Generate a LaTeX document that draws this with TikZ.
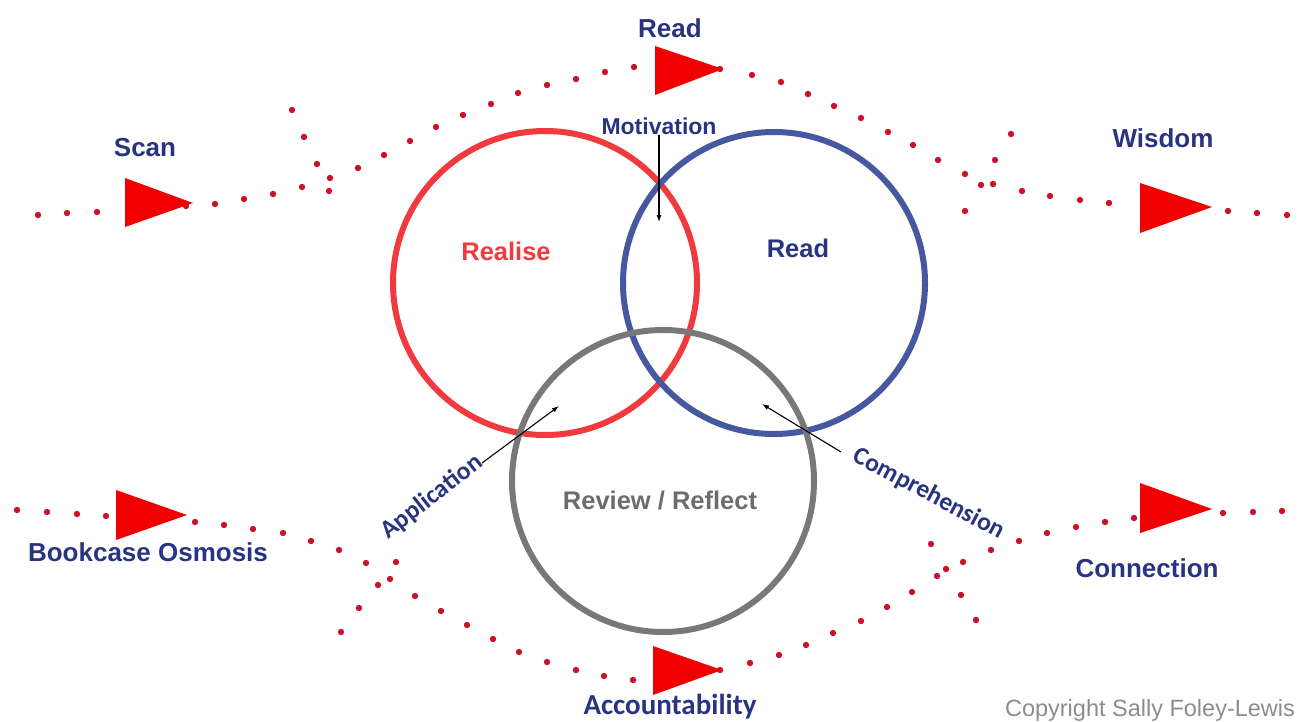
\documentclass[tikz,border=0pt]{standalone}
\usepackage{fontspec}
\setmainfont{Liberation Sans}
\newfontfamily\carl{Carlito}
\definecolor{navy}{RGB}{40,52,128}
\definecolor{ringred}{RGB}{240,58,62}
\definecolor{ringblue}{RGB}{70,88,160}
\definecolor{ringgray}{RGB}{120,120,120}
\definecolor{dotred}{RGB}{205,15,40}
\definecolor{flagred}{RGB}{240,0,0}
\definecolor{copygray}{RGB}{140,140,140}
\tikzset{
  ring/.style={line width=6pt},
  lbl/.style={text=navy,font=\bfseries\fontsize{26}{28}\selectfont,inner sep=0pt},
  clbl/.style={text=navy,font=\carl\bfseries\fontsize{25.5}{27}\selectfont,inner sep=0pt},
  ptr/.style={line width=1.1pt,-{Latex[length=7pt,width=5pt]}},
  dotm/.style={fill=dotred,draw=none},
  flag/.style={fill=flagred,draw=none}
}
\usetikzlibrary{arrows.meta}
\begin{document}
\begin{tikzpicture}[x=1pt,y=-1pt]
\useasboundingbox (0,0) rectangle (1300,722);
% dots
\foreach \p in {(38,215),(67,213),(97,212),(186,206),(215,204),(244,199),(273,194),(302,187),(329,191),(330,178),(317,164),(304,137),(292,110),(358,168),(384,155),(410,141),(436,127),(463,115),(491,104),(518,93),(547,85),(576,79),(605,72),(634,67),(720,69),(752,75),(781,82),(808,94),(834,106),(861,118),(888,132),(913,145),(938,160),(965,174),(981,185),(993,184),(995,160),(1011,134),(965,211),(1022,191),(1050,196),(1080,200),(1109,203),(1228,211),(1257,213),(1287,215),
(17,510),(47,512),(77,514),(106,516),(195,522),(224,525),(253,529),(283,533),(311,541),(339,550),(366,563),(396,562),(390,579),(378,585),(415,596),(359,608),(341,632),(441,611),(467,625),(493,639),(519,652),(547,662),(576,670),(604,676),(633,680),(720,670),(750,663),(779,655),(806,645),(833,633),(861,621),(887,607),(912,592),(937,576),(946,569),(963,562),(991,550),(1019,541),(1047,533),(1076,527),(1105,522),(1134,518),(1223,513),(1253,512),(1282,511),(931,544),(961,595),(976,620)}
  \fill[dotm] \p circle (3.2);
% flags
\fill[flag] (125,178) -- (193,203) -- (125,227) -- cycle;
\fill[flag] (655,46) -- (723,69) -- (655,95) -- cycle;
\fill[flag] (1140,183) -- (1212,207) -- (1140,233) -- cycle;
\fill[flag] (116,490) -- (187,515) -- (116,540) -- cycle;
\fill[flag] (653,646) -- (722,670) -- (653,695) -- cycle;
\fill[flag] (1140,483) -- (1212,509) -- (1140,533) -- cycle;
% rings
\draw[ring,ringred] (545,283) circle (152);
\draw[ring,ringblue] (774,283) circle (151);
\draw[ring,ringgray] (663,481) circle (151);
% ring labels
\node[inner sep=0pt,text=ringred,font=\bfseries\fontsize{25.5}{27}\selectfont] (realise) at (506,251) {Realise};
\node[inner sep=0pt,text=navy,font=\bfseries\fontsize{25.5}{27}\selectfont] (readc) at (798,248) {Read};
\node[inner sep=0pt,text=ringgray!90!black,font=\bfseries\fontsize{25.5}{27}\selectfont] (review) at (660,501) {Review / Reflect};
% outer labels
\node[lbl] (read) at (670,28) {Read};
\node[lbl] (scan) at (145,148) {Scan};
\node[lbl] (wisdom) at (1163,138) {Wisdom};
\node[lbl] (bookcase) at (148,552) {Bookcase Osmosis};
\node[lbl] (connection) at (1147,568) {Connection};
\node[text=navy,font=\carl\bfseries\fontsize{29}{31}\selectfont,inner sep=0pt] (account) at (670,707) {Accountability};
\node[text=copygray,font=\fontsize{23.5}{25}\selectfont,inner sep=0pt] (copy) at (1150,710) {Copyright Sally Foley-Lewis};
% pointer labels
\node[text=navy,font=\bfseries\fontsize{23}{25}\selectfont,inner sep=0pt] (motiv) at (659,126) {Motivation};
\node[clbl,rotate=38] (appl) at (432,497) {Application};
\node[clbl,rotate=-28] (comp) at (929,494) {Comprehension};
% pointers
\coordinate (mt) at (659,222);
\coordinate (as) at (482,463);
\coordinate (at) at (559,406);
\coordinate (cs) at (841,452);
\coordinate (ct) at (762,404);
\draw[ptr] (motiv.south) -- (mt);
\draw[ptr] (as) -- (at);
\draw[ptr] (cs) -- (ct);
\end{tikzpicture}
\end{document}
